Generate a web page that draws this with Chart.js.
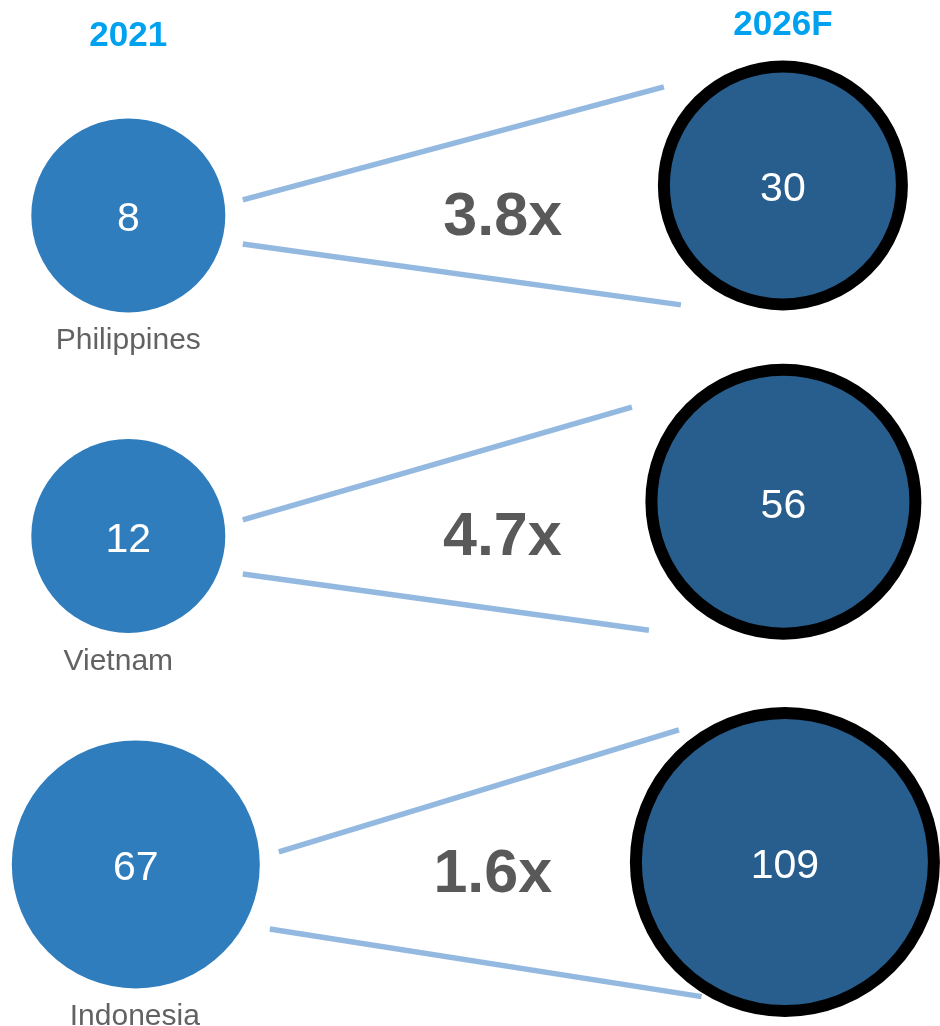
<!DOCTYPE html>
<html>
<head>
<meta charset="utf-8">
<style>
  html, body { margin: 0; padding: 0; background: #fff; }
  #wrap { width: 940px; height: 1026px; }
</style>
<script src="https://cdn.jsdelivr.net/npm/chart.js@4.4.1/dist/chart.umd.min.js"></script>
</head>
<body>
<div id="wrap"><canvas id="growthChart" width="940" height="1026"></canvas></div>
<script>
// === Data ===
const periods = ["2021", "2026F"];
const countries = ["Philippines", "Vietnam", "Indonesia"];
const values2021 = [8, 12, 67];
const values2026 = [30, 56, 109];

// === Styles ===
const FONT = "'Liberation Sans', Arial, Helvetica, sans-serif";
const COLOR_2021 = "#2F7DBD";
const COLOR_2026 = "#275E8D";
const COLOR_HEAD = "#00A2F0";
const COLOR_MULT = "#595959";
const COLOR_NAME = "#626262";
const COLOR_LINK = "#94B9E0";

const radii2021 = [97, 97, 124];
const radii2026 = [119, 132, 149]; // ring of 12px sits on top of this
const ringWidth = 12;

// small per-bubble layout tweaks [dx, dy] in px
const nudge2021 = [[0, 0], [0, -4], [7.5, 0]];
const nudge2026 = [[0, 0], [0.5, -22], [2, 0]];

// connector ends: start relative to 2021 bubble, end relative to 2026F bubble
const connectors = [
  { upper: [[114.5, -15.5], [-119, -98.5]], lower: [[114.5, 28.5], [-102, 119.5]] },
  { upper: [[114.5, -16], [-151.5, -94.5]], lower: [[114.5, 38], [-134.5, 128.5]] },
  { upper: [[143, -12.5], [-106, -132]], lower: [[134, 64.5], [-83.3, 134.7]] },
];
const multAt = [0.572, 0.571, 0.55];
const multDy = [19.5, 19, 28];
const nameDx = [0, -10, -1];
const headBaseline = [46, 35];

// === Plugins ===
const nudgePlugin = {
  id: "nudge",
  afterDatasetsUpdate(chart) {
    [nudge2021, nudge2026].forEach((offsets, d) => {
      chart.getDatasetMeta(d).data.forEach((el, i) => {
        el.x += offsets[i][0];
        el.y += offsets[i][1];
      });
    });
  },
};

const decorPlugin = {
  id: "decor",
  beforeDatasetsDraw(chart) {
    const { ctx } = chart;
    const left = chart.getDatasetMeta(0).data;
    const right = chart.getDatasetMeta(1).data;
    ctx.save();
    ctx.strokeStyle = COLOR_LINK;
    ctx.lineWidth = 5.5;
    ctx.lineCap = "butt";
    connectors.forEach((c, i) => {
      [c.upper, c.lower].forEach(([s, e]) => {
        ctx.beginPath();
        ctx.moveTo(left[i].x + s[0], left[i].y + s[1]);
        ctx.lineTo(right[i].x + e[0], right[i].y + e[1]);
        ctx.stroke();
      });
    });
    ctx.restore();
  },
  afterDatasetsDraw(chart) {
    const { ctx } = chart;
    const left = chart.getDatasetMeta(0).data;
    const right = chart.getDatasetMeta(1).data;
    ctx.save();
    ctx.textAlign = "center";
    ctx.textBaseline = "alphabetic";

    // values inside bubbles
    ctx.fillStyle = "#fff";
    ctx.font = `41px ${FONT}`;
    left.forEach((el, i) => ctx.fillText(String(values2021[i]), el.x, el.y + 16));
    right.forEach((el, i) => ctx.fillText(String(values2026[i]), el.x, el.y + 16));

    // country names under the 2021 bubbles
    ctx.fillStyle = COLOR_NAME;
    ctx.font = `30px ${FONT}`;
    left.forEach((el, i) =>
      ctx.fillText(countries[i], el.x + nameDx[i], el.y + radii2021[i] + 37)
    );

    // growth multiple between the two years
    ctx.fillStyle = COLOR_MULT;
    ctx.font = `bold 61px ${FONT}`;
    left.forEach((el, i) => {
      const mult = (values2026[i] / values2021[i]).toFixed(1) + "x";
      const x = el.x + (right[i].x - el.x) * multAt[i];
      ctx.fillText(mult, x, el.y + multDy[i]);
    });

    // period headers
    ctx.fillStyle = COLOR_HEAD;
    ctx.font = `bold 35px ${FONT}`;
    const xScale = chart.scales.x;
    periods.forEach((p, i) => ctx.fillText(p, xScale.getPixelForValue(i), headBaseline[i]));
    ctx.restore();
  },
};

// === Chart ===
const chart = new Chart(document.getElementById("growthChart"), {
  type: "bubble",
  data: {
    datasets: [
      {
        label: periods[0],
        data: countries.map((c, i) => ({ x: 0, y: i, r: radii2021[i] })),
        backgroundColor: COLOR_2021,
        borderWidth: 0,
        yAxisID: "yL",
        clip: false,
      },
      {
        label: periods[1],
        data: countries.map((c, i) => ({ x: 1, y: i, r: radii2026[i] })),
        backgroundColor: COLOR_2026,
        borderColor: "#000",
        borderWidth: ringWidth,
        yAxisID: "yR",
        clip: false,
      },
    ],
  },
  options: {
    responsive: false,
    animation: false,
    events: [],
    layout: { padding: 0, autoPadding: false },
    plugins: { legend: { display: false }, tooltip: { enabled: false } },
    scales: {
      x: { type: "linear", display: false, min: -0.196, max: 1.24 },
      yL: { type: "linear", display: false, reverse: true, min: -0.664, max: 2.498 },
      yR: { type: "linear", display: false, reverse: true, min: -0.548, max: 2.485 },
    },
  },
  plugins: [nudgePlugin, decorPlugin],
});
</script>
</body>
</html>
